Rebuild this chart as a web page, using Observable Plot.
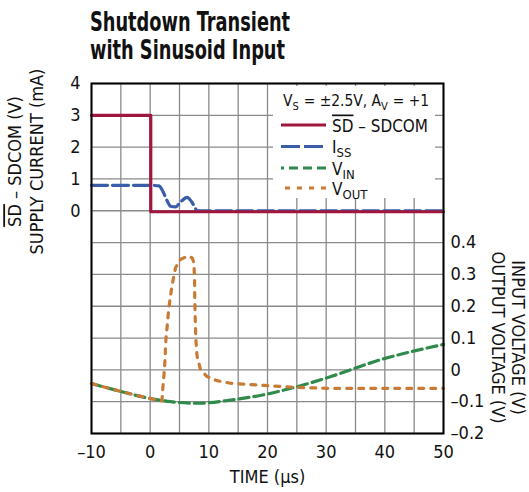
<!DOCTYPE html>
<html><head><meta charset="utf-8">
<script src="https://cdn.jsdelivr.net/npm/d3@7"></script>
<script src="https://cdn.jsdelivr.net/npm/@observablehq/plot@0.6"></script>
<style>
body{margin:0;background:#fff;font-family:"DejaVu Sans Condensed","Liberation Sans",sans-serif;color:#111;}
#wrap{position:relative;width:529px;height:492px;overflow:hidden;}
#title{box-sizing:border-box;height:66px;padding:8px 0 0 90px;}
#title div{font-weight:bold;font-size:26px;line-height:28px;transform:scaleX(0.76);transform-origin:0 0;white-space:nowrap;color:#111;}
#legend{position:absolute;left:273px;top:86px;width:162px;height:112px;background:#fff;}
#legend svg{overflow:visible;}
</style></head><body>
<div id="wrap">
<div id="title"><div>Shutdown Transient<br>with Sinusoid Input</div></div>
<div id="chart"></div>
<div id="legend"></div>
</div>
<script>
// ---- data ----
const sdTime = [-10, 0.1, 0.1, 50];
const sdValue = [3, 3, -0.03, -0.03];

const issTime = [-10, -5, 0, 1.5, 2.2, 2.8, 3.5, 4.3, 5.2, 6.3, 7.0, 7.6, 8.0, 50];
const issValue = [0.8, 0.8, 0.8, 0.78, 0.6, 0.35, 0.14, 0.12, 0.28, 0.42, 0.3, 0.12, 0, 0];

const vinTime = [-10, -5, 0, 3.5, 8, 13.7, 19.4, 25, 30.8, 39.3, 50];
const vinValue = [-0.043, -0.068, -0.09, -0.1, -0.105, -0.095, -0.078, -0.053, -0.021, 0.032, 0.08];

const voutTime = [-10, -5, 0, 2.0, 2.16, 2.33, 2.5, 2.6, 2.7, 2.9, 3.07, 3.3, 3.58, 3.92, 4.32, 5.17, 5.74, 6.5, 7.17, 7.45, 7.56, 7.6, 7.67, 7.79, 8.0, 8.6, 9.7, 11.4, 13.7, 19.4, 25.1, 30.2, 50];
const voutValue = [-0.043, -0.068, -0.09, -0.098, -0.058, -0.021, 0.021, 0.063, 0.1, 0.137, 0.173, 0.21, 0.247, 0.284, 0.321, 0.347, 0.352, 0.357, 0.352, 0.336, 0.294, 0.231, 0.168, 0.095, 0.042, 0.0, -0.021, -0.034, -0.042, -0.049, -0.055, -0.058, -0.058];

const xTicks = [-10, 0, 10, 20, 30, 40, 50];
const leftTicks = [0, 1, 2, 3, 4];
const rightTicks = [-0.2, -0.1, 0, 0.1, 0.2, 0.3, 0.4];

const seriesNames = ["SD – SDCOM", "ISS", "VIN", "VOUT"];
const seriesColors = ["#a0173d", "#3a5da9", "#2f8a4c", "#c97b35"];
const seriesDash = [null, "16,5", "10,5", "5,7"];
const legendDash = [null, "19,4", "9,5", "5,7"];
const legendDashOffset = [0, 0, 6, 8];

// legend header pieces: [text, isSubscript]
const headerParts = [["V", false], ["S", true], [" = \u00b12.5V, A", false], ["V", true], [" = +1", false]];

// right (voltage) axis shares the frame with the left axis: v -> left units
const vToY = v => 10 * v - 5;
const dash = s => s < 0 ? "\u2013" + Math.abs(s) : String(s);

const sd = sdTime.map((t, i) => ({t, y: sdValue[i]}));
const iss = issTime.map((t, i) => ({t, y: issValue[i]}));
const vin = vinTime.map((t, i) => ({t, y: vToY(vinValue[i])}));
const vout = voutTime.map((t, i) => ({t, y: vToY(voutValue[i])}));

const font = "'DejaVu Sans Condensed','Liberation Sans',sans-serif";

const chart = Plot.plot({
  width: 529, height: 426,
  marginTop: 17, marginBottom: 59, marginLeft: 91, marginRight: 86,
  x: {domain: [-10, 50]},
  y: {domain: [-7, 4]},
  style: {fontFamily: font, fontSize: "18px", color: "#111", background: "#fff"},
  marks: [
    Plot.gridX(d3.range(-10, 51, 5), {stroke: "#8a8a8a", strokeOpacity: 1, strokeWidth: 1.3}),
    Plot.gridY(d3.range(-7, 5, 1), {stroke: "#8a8a8a", strokeOpacity: 1, strokeWidth: 1.3}),
    Plot.line(vin, {x: "t", y: "y", stroke: seriesColors[2], strokeWidth: 3.2, strokeDasharray: seriesDash[2], curve: "monotone-x"}),
    Plot.line(vout, {x: "t", y: "y", stroke: seriesColors[3], strokeWidth: 3.2, strokeDasharray: seriesDash[3], curve: "linear"}),
    Plot.line(iss, {x: "t", y: "y", stroke: seriesColors[1], strokeWidth: 3.2, strokeDasharray: seriesDash[1], curve: "monotone-x"}),
    Plot.line(sd, {x: "t", y: "y", stroke: seriesColors[0], strokeWidth: 3.2}),
    Plot.frame({stroke: "#000", strokeWidth: 2}),
    Plot.axisY(leftTicks, {anchor: "left", tickSize: 0, tickPadding: 11, label: null, fontSize: 18}),
    Plot.axisY(rightTicks.map(vToY), {anchor: "right", tickSize: 0, tickPadding: 7, label: null, fontSize: 18,
      tickFormat: d => dash(Math.round((d + 5)) / 10)}),
    Plot.axisX(xTicks, {tickSize: 0, tickPadding: 12, label: null, fontSize: 18, tickFormat: dash}),
    Plot.text(["TIME (\u00b5s)"], {frameAnchor: "bottom", dy: 44, fontSize: 18, textAnchor: "middle", lineAnchor: "middle"}),
    Plot.text(["SD \u2013 SDCOM (V)"], {frameAnchor: "top-left", dx: -76, dy: 78, rotate: -90, fontSize: 18, textAnchor: "middle", lineAnchor: "middle"}),
    Plot.text(["SUPPLY CURRENT (mA)"], {frameAnchor: "top-left", dx: -54, dy: 78, rotate: -90, fontSize: 18, textAnchor: "middle", lineAnchor: "middle"}),
    Plot.text(["INPUT VOLTAGE (V)"], {frameAnchor: "top-right", dx: 74, dy: 254, rotate: 90, fontSize: 18, textAnchor: "middle", lineAnchor: "middle"}),
    Plot.text(["OUTPUT VOLTAGE (V)"], {frameAnchor: "top-right", dx: 54, dy: 254, rotate: 90, fontSize: 18, textAnchor: "middle", lineAnchor: "middle"})
  ]
});
document.getElementById("chart").appendChild(chart);

// overline on "SD"
d3.select(chart).selectAll("text").each(function() {
  const el = d3.select(this);
  if (this.textContent === "SD \u2013 SDCOM (V)") {
    el.text(null);
    el.append("tspan").style("text-decoration", "overline").text("SD");
    el.append("tspan").text(" \u2013 SDCOM (V)");
  }
});

// ---- legend ----
const lg = d3.select("#legend").append("svg").attr("width", 162).attr("height", 112)
  .style("font-family", font).style("fill", "#111");

// header: lay out pieces side by side, then fit to the box width
const hdr = lg.append("g");
function layoutHeader(fs) {
  hdr.selectAll("*").remove();
  let x = 0;
  headerParts.forEach(([txt, sub]) => {
    const el = hdr.append("text").attr("x", x).attr("y", sub ? 4 : 0)
      .style("font-size", (sub ? fs * 0.72 : fs) + "px")
      .style("white-space", "pre").text(txt);
    x += el.node().getComputedTextLength() + (sub ? 0.5 : 0);
  });
  return x;
}
const w17 = layoutHeader(17);
layoutHeader(Math.min(17, 17 * 146 / w17));
hdr.attr("transform", "translate(10,20)");

const rowY = [39, 60.5, 82, 102];
seriesNames.forEach((name, i) => {
  const y = rowY[i];
  lg.append("line").attr("x1", 8).attr("x2", 53).attr("y1", y).attr("y2", y)
    .attr("stroke", seriesColors[i]).attr("stroke-width", 3.2)
    .attr("stroke-dasharray", legendDash[i]).attr("stroke-dashoffset", legendDashOffset[i]);
  const t = lg.append("text").attr("x", 59).attr("y", y + 6.5).style("font-size", "17px");
  if (i === 0) {
    t.attr("textLength", 96).attr("lengthAdjust", "spacingAndGlyphs");
    t.append("tspan").style("text-decoration", "overline").text("SD");
    t.append("tspan").text(" \u2013 SDCOM");
  } else {
    t.append("tspan").text(name.slice(0, 1));
    t.append("tspan").attr("dy", 4).style("font-size", "13px").text(name.slice(1));
  }
});
</script>
</body></html>
